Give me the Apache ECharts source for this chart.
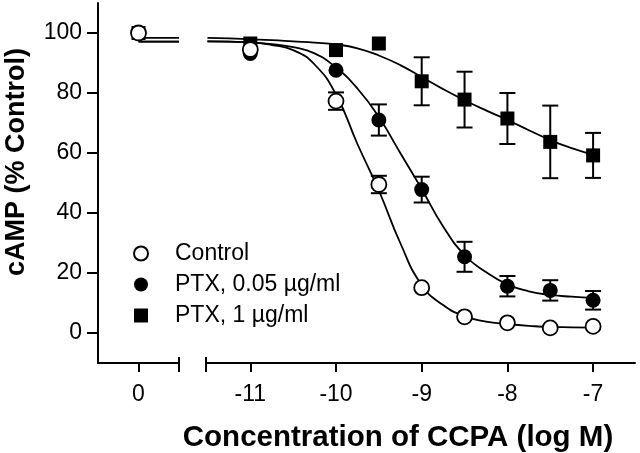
<!DOCTYPE html>
<html>
<head>
<meta charset="utf-8">
<script src="https://cdn.jsdelivr.net/npm/echarts@6/dist/echarts.min.js"></script>
<style>
  html, body { margin: 0; padding: 0; background: #fff; }
  #chart { width: 640px; height: 453px; }
</style>
</head>
<body>
<div id="chart"></div>
<script>
// ---- data ----
const xTickValues = [-11, -10, -9, -8, -7];
const yTickValues = [0, 20, 40, 60, 80, 100];
const zeroTick = [0];

const doseX = [-11, -10, -9.5, -9, -8.5, -8, -7.5, -7];
const controlY = [94.5, 77.3, 49.5, 15.1, 5.4, 3.4, 1.7, 2.2];
const controlErr = [null, 2.9, 2.9, null, null, null, null, null];
const ptx005Y = [93.2, 87.6, 71.0, 47.8, 25.4, 15.6, 14.2, 10.9];
const ptx005Err = [null, null, 5.2, 4.3, 5.0, 3.4, 3.4, 3.1];
const ptx1Y = [96.5, 94.3, 96.5, 83.9, 77.8, 71.5, 63.7, 59.2];
const ptx1Err = [null, null, null, 8.0, 9.3, 8.5, 12.1, 7.5];

// values at concentration 0 (no agonist)
const controlZero = 100;
const ptx005Zero = 100;
const ptx1Zero = 100;

// fitted curves
const curveX = [-11.5, -11.25, -11, -10.75, -10.5, -10.25, -10, -9.75, -9.5, -9.25, -9, -8.75, -8.5, -8.25, -8, -7.75, -7.5, -7.25, -7];
const controlFit = [97.2, 97.1, 96.9, 96.0, 94.3, 89.5, 79.5, 63, 47.5, 30, 16, 9.3, 5.6, 3.8, 3.0, 2.4, 2.0, 1.9, 1.8];
const ptx005Fit = [97.2, 97.1, 96.9, 96.3, 95.3, 93.2, 88.5, 81.5, 72, 60, 48, 35.5, 26, 20.3, 16.2, 13.9, 12.7, 12.1, 11.7];
const ptx1Fit = [98.4, 98.2, 97.9, 97.6, 97.2, 96.8, 96.2, 94.9, 92.5, 89.3, 85.3, 81.3, 77.6, 74.2, 71, 67.6, 64.3, 61.6, 59.4];
// curve plateau drawn next to the "0" point
const zeroCurveX = [0, 1];
const controlFitZero = [97.1, 97.1];
const ptx005FitZero = [97.1, 97.1];
const ptx1FitZero = [98.4, 98.4];

const names = ['Control', 'PTX, 0.05 \u00b5g/ml', 'PTX, 1 \u00b5g/ml'];

// ---- chart ----
const FONT = "'Liberation Sans', Arial, Helvetica, sans-serif";
const BLACK = '#000';
const SQUARE = 'path://M0,0H10V10H0Z';
const leftMin = -1, leftMax = 1;
const rightMin = -11.517, rightMax = -6.511;

const pairs = (xs, ys) => xs.map((x, i) => [x, ys[i]]);
const errTriples = (xs, ys, es) => xs.map((x, i) => [x, ys[i], es[i]]).filter(d => d[2] != null);

function errorRender(params, api) {
  const x = api.value(0), y = api.value(1), e = api.value(2);
  const top = api.coord([x, y + e]);
  const bot = api.coord([x, y - e]);
  const hw = 8;
  const st = { stroke: BLACK, lineWidth: 2 };
  return {
    type: 'group',
    children: [
      { type: 'line', shape: { x1: top[0], y1: top[1], x2: bot[0], y2: bot[1] }, style: st },
      { type: 'line', shape: { x1: top[0] - hw, y1: top[1], x2: top[0] + hw, y2: top[1] }, style: st },
      { type: 'line', shape: { x1: bot[0] - hw, y1: bot[1], x2: bot[0] + hw, y2: bot[1] }, style: st }
    ]
  };
}

const styles = [
  { symbol: 'circle', size: 15, itemStyle: { color: '#fff', borderColor: BLACK, borderWidth: 1.8, opacity: 1 }, z: 6 },
  { symbol: 'circle', size: 15, itemStyle: { color: BLACK, borderColor: BLACK, borderWidth: 0, opacity: 1 }, z: 5 },
  { symbol: SQUARE, size: 14, itemStyle: { color: BLACK, borderColor: BLACK, borderWidth: 0, opacity: 1 }, z: 4 }
];
const ys = [controlY, ptx005Y, ptx1Y];
const errs = [controlErr, ptx005Err, ptx1Err];
const zeros = [controlZero, ptx005Zero, ptx1Zero];
const fits = [controlFit, ptx005Fit, ptx1Fit];
const fitZeros = [controlFitZero, ptx005FitZero, ptx1FitZero];

const series = [];
for (let i = 0; i < 3; i++) {
  series.push({
    name: 'fit' + i, type: 'line', xAxisIndex: 0, yAxisIndex: 0,
    data: pairs(zeroCurveX, fitZeros[i]), showSymbol: false, silent: true,
    lineStyle: { color: BLACK, width: 1.8 }, z: 2
  });
  series.push({
    name: 'fit' + i, type: 'line', xAxisIndex: 1, yAxisIndex: 1,
    data: pairs(curveX, fits[i]), showSymbol: false, smooth: 0.5, silent: true,
    lineStyle: { color: BLACK, width: 1.8 }, z: 2
  });
  series.push({
    name: 'err' + i, type: 'custom', xAxisIndex: 1, yAxisIndex: 1,
    data: errTriples(doseX, ys[i], errs[i]), renderItem: errorRender,
    encode: { x: 0, y: 1 }, z: 3, silent: true
  });
}
for (let i = 2; i >= 0; i--) {
  series.push({
    name: names[i], type: 'scatter', xAxisIndex: 0, yAxisIndex: 0,
    data: [[0, zeros[i]]], symbol: styles[i].symbol, symbolSize: styles[i].size,
    itemStyle: styles[i].itemStyle, z: styles[i].z
  });
  series.push({
    name: names[i], type: 'scatter', xAxisIndex: 1, yAxisIndex: 1,
    data: pairs(doseX, ys[i]), symbol: styles[i].symbol, symbolSize: styles[i].size,
    itemStyle: styles[i].itemStyle, z: styles[i].z
  });
}

const axisLine = { show: true, onZero: false, lineStyle: { color: BLACK, width: 2 } };
const labelStyle = { color: BLACK, fontSize: 23, fontFamily: FONT };

const option = {
  animation: false,
  backgroundColor: '#fff',
  grid: [
    { left: 98, top: 3, width: 81, height: 360, outerBoundsMode: 'none', containLabel: false },
    { left: 206, top: 3, width: 429, height: 360, outerBoundsMode: 'none', containLabel: false }
  ],
  legend: {
    orient: 'vertical', left: 128, top: 237,
    itemWidth: 58, itemHeight: 14, itemGap: 8,
    symbolKeepAspect: true,
    textStyle: { color: BLACK, fontSize: 23, fontFamily: FONT },
    data: [
      { name: names[0], icon: 'circle' },
      { name: names[1], icon: 'circle' },
      { name: names[2], icon: SQUARE }
    ]
  },
  xAxis: [
    {
      gridIndex: 0, type: 'value', min: leftMin, max: leftMax,
      axisLine: axisLine,
      axisTick: { show: true, length: 9, lineStyle: { color: BLACK, width: 2 }, customValues: zeroTick.concat([leftMax]) },
      axisLabel: Object.assign({ margin: 20, customValues: zeroTick }, labelStyle),
      splitLine: { show: false }
    },
    {
      gridIndex: 1, type: 'value', min: rightMin, max: rightMax,
      axisLine: axisLine,
      axisTick: { show: true, length: 9, lineStyle: { color: BLACK, width: 2 }, customValues: [rightMin].concat(xTickValues) },
      axisLabel: Object.assign({ margin: 20, customValues: xTickValues }, labelStyle),
      splitLine: { show: false },
      name: 'Concentration of CCPA (log M)',
      nameLocation: 'middle', nameGap: 60,
      nameTextStyle: { color: BLACK, fontSize: 29.5, fontWeight: 'bold', fontFamily: FONT, padding: [0, 45, 0, 0] }
    },
    {
      gridIndex: 0, type: 'value', min: leftMin, max: leftMax, position: 'bottom',
      axisLine: { show: false, onZero: false },
      axisTick: { show: true, inside: true, length: 6, lineStyle: { color: BLACK, width: 2 }, customValues: [leftMax] },
      axisLabel: { show: false }, splitLine: { show: false }
    },
    {
      gridIndex: 1, type: 'value', min: rightMin, max: rightMax, position: 'bottom',
      axisLine: { show: false, onZero: false },
      axisTick: { show: true, inside: true, length: 6, lineStyle: { color: BLACK, width: 2 }, customValues: [rightMin] },
      axisLabel: { show: false }, splitLine: { show: false }
    }
  ],
  yAxis: [
    {
      gridIndex: 0, type: 'value', min: -10, max: 110,
      axisLine: axisLine,
      axisTick: { show: true, length: 11, lineStyle: { color: BLACK, width: 2 }, customValues: yTickValues },
      axisLabel: Object.assign({ margin: 16, customValues: yTickValues }, labelStyle),
      splitLine: { show: false },
      name: 'cAMP (% Control)',
      nameLocation: 'middle', nameGap: 68,
      nameTextStyle: { color: BLACK, fontSize: 27, fontWeight: 'bold', fontFamily: FONT, padding: [0, 0, 0, 42] }
    },
    {
      gridIndex: 1, type: 'value', min: -10, max: 110, show: false,
      splitLine: { show: false }
    }
  ],
  series: series
};

const chart = echarts.init(document.getElementById('chart'), null, { renderer: 'canvas' });
chart.setOption(option);
</script>
</body>
</html>
